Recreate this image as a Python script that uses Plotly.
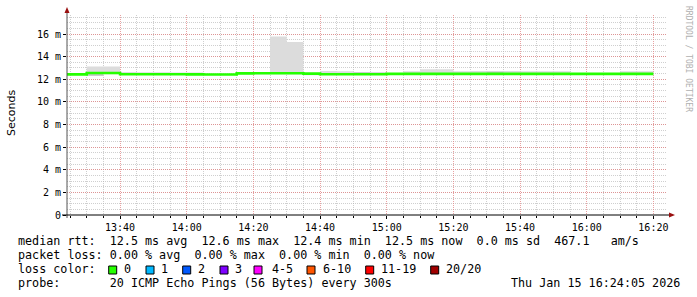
import plotly.graph_objects as go
import pandas as pd

# ---------------- data ----------------
interval_start = list(pd.date_range("2026-01-15 13:20", periods=36, freq="5min"))
data_end = pd.Timestamp("2026-01-15 16:20")

median_ms = [12.43, 12.43, 12.55, 12.55, 12.45, 12.45, 12.45, 12.44, 12.43, 12.42,
             12.42, 12.52, 12.53, 12.53, 12.53, 12.50, 12.45, 12.45, 12.45, 12.45,
             12.48, 12.48, 12.48, 12.48, 12.48, 12.48, 12.48, 12.48, 12.48, 12.48,
             12.48, 12.48, 12.48, 12.48, 12.48, 12.48]
smoke_hi_ms = [12.50, 12.50, 13.12, 13.12, 12.65, 12.63, 12.62, 12.60, 12.60, 12.50,
               12.50, 12.58, 12.60, 15.78, 15.30, 12.55, 12.74, 12.72, 12.62, 12.60,
               12.55, 12.72, 12.88, 12.88, 12.72, 12.74, 12.68, 12.74, 12.72, 12.70,
               12.70, 12.55, 12.55, 12.55, 12.70, 12.70]
smoke_lo_ms = [12.38, 12.38, 12.32, 12.45, 12.40, 12.40, 12.40, 12.40, 12.38, 12.38,
               12.38, 12.45, 12.45, 12.45, 12.45, 12.36, 12.40, 12.40, 12.40, 12.40,
               12.42, 12.42, 12.42, 12.42, 12.42, 12.42, 12.42, 12.42, 12.42, 12.42,
               12.42, 12.42, 12.42, 12.42, 12.42, 12.42]
inner_hi_ms = [12.46, 12.46, 12.58, 12.60, 12.50, 12.50, 12.50, 12.48, 12.48, 12.46,
               12.46, 12.55, 12.56, 12.60, 12.60, 12.52, 12.50, 12.50, 12.62, 12.60,
               12.50, 12.52, 12.55, 12.55, 12.52, 12.52, 12.68, 12.55, 12.52, 12.52,
               12.52, 12.50, 12.50, 12.50, 12.52, 12.52]
inner_lo_ms = [12.40, 12.40, 12.32, 12.48, 12.42, 12.42, 12.42, 12.42, 12.40, 12.40,
               12.40, 12.48, 12.48, 12.48, 12.48, 12.38, 12.42, 12.42, 12.42, 12.42,
               12.44, 12.44, 12.44, 12.44, 12.44, 12.44, 12.44, 12.44, 12.44, 12.44,
               12.44, 12.44, 12.44, 12.44, 12.44, 12.44]

y_tick_vals = [0, 2, 4, 6, 8, 10, 12, 14, 16]
y_tick_text = ["0", "2 m", "4 m", "6 m", "8 m", "10 m", "12 m", "14 m", "16 m"]

stats_line1 = "median rtt:  12.5 ms avg  12.6 ms max  12.4 ms min  12.5 ms now  0.0 ms sd  467.1   am/s"
stats_line2 = "packet loss: 0.00 % avg  0.00 % max  0.00 % min  0.00 % now"
loss_title = "loss color:"
loss_labels = ["0", "1", "2", "3", "4-5", "6-10", "11-19", "20/20"]
loss_colors = ["#26ff00", "#00b8ff", "#0059ff", "#7e00ff", "#ff00ff", "#ff5500", "#ff0000", "#a00000"]
probe_line = "probe:       20 ICMP Echo Pings (56 Bytes) every 300s"
date_text = "Thu Jan 15 16:24:05 2026"
watermark = "RRDTOOL / TOBI OETIKER"

x_start = "2026-01-15 13:24:05"
x_end = "2026-01-15 16:24:05"

# ---------------- figure ----------------
W, H = 697, 297
L, R, T, B = 67, 30, 15, 82


def px(p):
    return (p - L) / (W - L - R)


def py(q):
    return (H - B - q) / (H - T - B)


def nb(s):
    return s.replace(" ", "\u00a0")


edges = interval_start + [data_end]


def ext(v):
    return list(v) + [v[-1]]


fig = go.Figure()
fig.add_trace(go.Scatter(x=edges, y=ext(smoke_lo_ms), mode="lines", line=dict(width=0, shape="hv"),
                         hoverinfo="skip", showlegend=False))
fig.add_trace(go.Scatter(x=edges, y=ext(smoke_hi_ms), mode="lines", line=dict(width=0, shape="hv"),
                         fill="tonexty", fillcolor="#dcdcdc", hoverinfo="skip", showlegend=False))
fig.add_trace(go.Scatter(x=edges, y=ext(inner_lo_ms), mode="lines", line=dict(width=0, shape="hv"),
                         hoverinfo="skip", showlegend=False))
fig.add_trace(go.Scatter(x=edges, y=ext(inner_hi_ms), mode="lines", line=dict(width=0, shape="hv"),
                         fill="tonexty", fillcolor="#c4c4c4", hoverinfo="skip", showlegend=False))
fig.add_trace(go.Scatter(x=edges, y=ext(median_ms), mode="lines",
                         line=dict(width=2.6, shape="hv", color="#26ff00"),
                         showlegend=False))

mono = "DejaVu Sans Mono"

fig.update_layout(
    width=W, height=H,
    margin=dict(l=L, r=R, t=T, b=B, pad=0),
    paper_bgcolor="white", plot_bgcolor="white",
    showlegend=False,
    xaxis=dict(
        type="date", range=[x_start, x_end],
        tick0="2026-01-15 13:40", dtick=20 * 60 * 1000, tickformat="%H:%M",
        showgrid=True, gridcolor="rgba(225,130,130,0.75)", griddash="1px,1px", gridwidth=1,
        minor=dict(dtick=5 * 60 * 1000, showgrid=True, gridcolor="rgba(175,175,175,0.6)",
                   griddash="1px,1px", ticks="outside", ticklen=2, tickcolor="#000"),
        ticks="outside", ticklen=3, tickcolor="#000",
        showline=False, zeroline=False,
        tickfont=dict(family=mono, size=10, color="#000"),
    ),
    yaxis=dict(
        range=[0, (H - T - B) / 11.31],
        tickvals=y_tick_vals, ticktext=y_tick_text,
        showgrid=True, gridcolor="rgba(225,130,130,0.75)", griddash="1px,1px", gridwidth=1,
        minor=dict(dtick=0.5, showgrid=True, gridcolor="rgba(175,175,175,0.6)", griddash="1px,1px"),
        ticks="outside", ticklen=3, tickcolor="#000",
        showline=False, zeroline=False,
        tickfont=dict(family=mono, size=10, color="#000"),
    ),
)

# axis lines and arrows
fig.add_shape(type="line", xref="paper", yref="paper", x0=px(67), x1=px(67), y0=py(218), y1=py(12),
              line=dict(color="#555555", width=1))
fig.add_shape(type="line", xref="paper", yref="paper", x0=px(62), x1=px(670), y0=py(215), y1=py(215),
              line=dict(color="#000000", width=1))
fig.add_shape(type="path", xref="paper", yref="paper",
              path=f"M {px(64.5)} {py(13)} L {px(69.5)} {py(13)} L {px(67)} {py(7)} Z",
              fillcolor="#9a1010", line=dict(width=0))
fig.add_shape(type="path", xref="paper", yref="paper",
              path=f"M {px(669)} {py(212.5)} L {px(669)} {py(217.5)} L {px(675)} {py(215)} Z",
              fillcolor="#9a1010", line=dict(width=0))

# y title
fig.add_annotation(xref="paper", yref="paper", x=px(11), y=py(113), text="Seconds", textangle=-90,
                   showarrow=False, font=dict(family="DejaVu Sans", size=11, color="#000"),
                   xanchor="center", yanchor="middle")
# watermark
fig.add_annotation(xref="paper", yref="paper", x=px(688), y=py(59), text=watermark, textangle=90,
                   showarrow=False, font=dict(family=mono, size=8, color="#b0b0b0"),
                   xanchor="center", yanchor="middle")

legend_font = dict(family=mono, size=11.72, color="#000")
row_y = [241, 255, 269, 283]
fig.add_annotation(xref="paper", yref="paper", x=px(16), y=py(row_y[0]), text=nb(stats_line1),
                   showarrow=False, font=legend_font, xanchor="left", yanchor="middle")
fig.add_annotation(xref="paper", yref="paper", x=px(16), y=py(row_y[1]), text=nb(stats_line2),
                   showarrow=False, font=legend_font, xanchor="left", yanchor="middle")
fig.add_annotation(xref="paper", yref="paper", x=px(16), y=py(row_y[2]), text=nb(loss_title),
                   showarrow=False, font=legend_font, xanchor="left", yanchor="middle")
fig.add_annotation(xref="paper", yref="paper", x=px(16), y=py(row_y[3]), text=nb(probe_line),
                   showarrow=False, font=legend_font, xanchor="left", yanchor="middle")
fig.add_annotation(xref="paper", yref="paper", x=px(682), y=py(row_y[3]), text=nb(date_text),
                   showarrow=False, font=legend_font, xanchor="right", yanchor="middle")

box_left = [108.7, 146, 182.7, 220, 254, 307, 365.7, 430.7]
label_left = [122.5, 160, 197, 234, 270.7, 322, 380, 445]
for lab, col, bx, lx in zip(loss_labels, loss_colors, box_left, label_left):
    fig.add_shape(type="rect", xref="paper", yref="paper", x0=px(bx), x1=px(bx + 8),
                  y0=py(274), y1=py(266), fillcolor=col, line=dict(color="#000", width=1))
    fig.add_annotation(xref="paper", yref="paper", x=px(lx - 1), y=py(row_y[2]), text=lab,
                       showarrow=False, font=legend_font, xanchor="left", yanchor="middle")

fig.write_html("out.html")
